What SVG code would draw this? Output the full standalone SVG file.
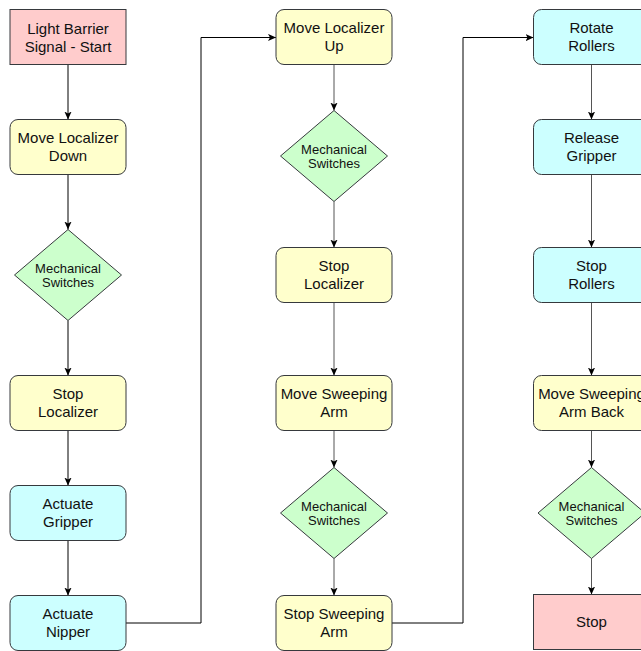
<svg xmlns="http://www.w3.org/2000/svg" width="641" height="651" viewBox="0 0 641 651">
<defs>
<style>
.box{stroke:#36393d;stroke-width:1}
.red{fill:#ffcccc}
.yel{fill:#ffffcc}
.cyan{fill:#ccffff}
.grn{fill:#ccffcc}
.t{font-family:"Liberation Sans",Arial,sans-serif;font-size:15px;fill:#111;text-anchor:middle}
.ts{font-family:"Liberation Sans",Arial,sans-serif;font-size:13px;fill:#111;text-anchor:middle}
.c{fill:none;stroke:#000;stroke-width:1;marker-end:url(#arr)}
.g{stroke:#555}
</style>
<marker id="arr" viewBox="0 0 10 10" refX="10" refY="5" markerWidth="8" markerHeight="8" markerUnits="userSpaceOnUse" orient="auto">
<path d="M0,0.5 L10,5 L0,9.5 L2.5,5 Z" fill="#000"/>
</marker>
</defs>
<rect width="641" height="651" fill="#fff"/>
<g id="connectors">
<path class="c" d="M68,64.5 V119.5"/>
<path class="c" d="M68,174.5 V229.5"/>
<path class="c" d="M68,320.5 V375.5"/>
<path class="c" d="M68,430.5 V485.5"/>
<path class="c" d="M68,540.5 V595.5"/>
<path class="c" d="M126,623 H201 V37.5 H276"/>
<path class="c g" d="M334,64.5 V110.5"/>
<path class="c g" d="M334,201.5 V247.5"/>
<path class="c g" d="M334,302.5 V375.5"/>
<path class="c g" d="M334,430.5 V467.5"/>
<path class="c g" d="M334,558.5 V595.5"/>
<path class="c" d="M392,623 H463 V37.5 H533.5"/>
<path class="c g" d="M591.5,64.5 V119.5"/>
<path class="c g" d="M591.5,174.5 V247.5"/>
<path class="c g" d="M591.5,302.5 V375.5"/>
<path class="c g" d="M591.5,430.5 V467.5"/>
<path class="c g" d="M591.5,558.5 V594.5"/>
</g>
<g id="start">
<rect class="box red" x="10" y="9.5" width="116" height="55"/>
<text class="t" x="68" y="33.5">Light Barrier</text>
<text class="t" x="68" y="51.5">Signal - Start</text>
</g>
<g id="moveDown">
<rect class="box yel" x="10" y="119.5" width="116" height="55" rx="8"/>
<text class="t" x="68" y="143">Move Localizer</text>
<text class="t" x="68" y="161">Down</text>
</g>
<g id="switches1">
<polygon class="box grn" points="68,229.5 121.5,275 68,320.5 14.5,275"/>
<text class="ts" x="68" y="273">Mechanical</text>
<text class="ts" x="68" y="287">Switches</text>
</g>
<g id="stopLoc1">
<rect class="box yel" x="10" y="375.5" width="116" height="55" rx="8"/>
<text class="t" x="68" y="399">Stop</text>
<text class="t" x="68" y="417">Localizer</text>
</g>
<g id="actGripper">
<rect class="box cyan" x="10" y="485.5" width="116" height="55" rx="8"/>
<text class="t" x="68" y="509">Actuate</text>
<text class="t" x="68" y="527">Gripper</text>
</g>
<g id="actNipper">
<rect class="box cyan" x="10" y="595.5" width="116" height="55" rx="8"/>
<text class="t" x="68" y="619">Actuate</text>
<text class="t" x="68" y="637">Nipper</text>
</g>
<g id="moveUp">
<rect class="box yel" x="276" y="9.5" width="116" height="55" rx="8"/>
<text class="t" x="334" y="33">Move Localizer</text>
<text class="t" x="334" y="51">Up</text>
</g>
<g id="switches2">
<polygon class="box grn" points="334,110.5 387.5,156 334,201.5 280.5,156"/>
<text class="ts" x="334" y="154">Mechanical</text>
<text class="ts" x="334" y="168">Switches</text>
</g>
<g id="stopLoc2">
<rect class="box yel" x="276" y="247.5" width="116" height="55" rx="8"/>
<text class="t" x="334" y="271">Stop</text>
<text class="t" x="334" y="289">Localizer</text>
</g>
<g id="moveSweep">
<rect class="box yel" x="276" y="375.5" width="116" height="55" rx="8"/>
<text class="t" x="334" y="399">Move Sweeping</text>
<text class="t" x="334" y="417">Arm</text>
</g>
<g id="switches3">
<polygon class="box grn" points="334,467.5 387.5,513 334,558.5 280.5,513"/>
<text class="ts" x="334" y="511">Mechanical</text>
<text class="ts" x="334" y="525">Switches</text>
</g>
<g id="stopSweep">
<rect class="box yel" x="276" y="595.5" width="116" height="55" rx="8"/>
<text class="t" x="334" y="619">Stop Sweeping</text>
<text class="t" x="334" y="637">Arm</text>
</g>
<g id="rotate">
<rect class="box cyan" x="533.5" y="9.5" width="116" height="55" rx="8"/>
<text class="t" x="591.5" y="33">Rotate</text>
<text class="t" x="591.5" y="51">Rollers</text>
</g>
<g id="release">
<rect class="box cyan" x="533.5" y="119.5" width="116" height="55" rx="8"/>
<text class="t" x="591.5" y="143">Release</text>
<text class="t" x="591.5" y="161">Gripper</text>
</g>
<g id="stopRollers">
<rect class="box cyan" x="533.5" y="247.5" width="116" height="55" rx="8"/>
<text class="t" x="591.5" y="271">Stop</text>
<text class="t" x="591.5" y="289">Rollers</text>
</g>
<g id="sweepBack">
<rect class="box yel" x="533.5" y="375.5" width="116" height="55" rx="8"/>
<text class="t" x="591.5" y="399">Move Sweeping</text>
<text class="t" x="591.5" y="417">Arm Back</text>
</g>
<g id="switches4">
<polygon class="box grn" points="591.5,467.5 645,513 591.5,558.5 538,513"/>
<text class="ts" x="591.5" y="511">Mechanical</text>
<text class="ts" x="591.5" y="525">Switches</text>
</g>
<g id="stop">
<rect class="box red" x="533.5" y="594.5" width="116" height="55"/>
<text class="t" x="591.5" y="627">Stop</text>
</g>
</svg>
